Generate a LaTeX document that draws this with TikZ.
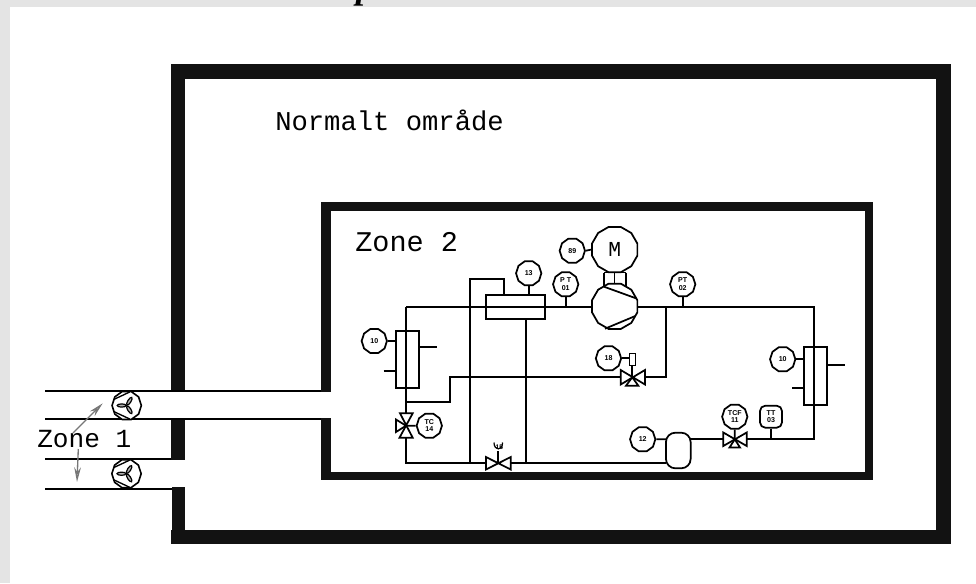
\documentclass[tikz,border=0pt]{standalone}
\usepackage{fontspec}
\setmainfont{Liberation Sans}
\newfontfamily\cadfont{Liberation Mono}
\newfontfamily\titlefont{Liberation Serif}
\usetikzlibrary{shapes.geometric,arrows.meta,calc}
\definecolor{wallc}{HTML}{121212}
\definecolor{pagec}{HTML}{E4E4E4}
\definecolor{arrowc}{HTML}{777777}
\tikzset{
  pipe/.style={line width=1.3pt,black},
  wall/.style={fill=wallc,draw=none},
  duct/.style={line width=1.4pt,black},
  equip/.style={draw=black,line width=1.3pt,fill=white},
  inst/.style={regular polygon,regular polygon sides=10,minimum size=19pt,inner sep=0pt,
    draw=black,line width=1.3pt,fill=white,align=center,font=\bfseries\fontsize{5.3}{5.6}\selectfont},
  instsq/.style={rectangle,rounded corners=4pt,minimum size=16.5pt,inner sep=0pt,
    draw=black,line width=1.3pt,fill=white,align=center,font=\bfseries\fontsize{5.3}{5.6}\selectfont},
  bigoct/.style={regular polygon,regular polygon sides=12,minimum size=35.2pt,inner sep=0pt,
    draw=black,line width=1.3pt,fill=white},
  fanoct/.style={regular polygon,regular polygon sides=10,minimum size=22pt,inner sep=0pt,
    draw=black,line width=1.2pt,fill=white},
  label/.style={anchor=base west,inner sep=0pt,text=black,font=\cadfont},
  flow/.style={draw=arrowc,line width=1pt,-{Stealth[open,length=11pt,width=5pt,fill=white]}},
  valve/.style={draw=black,line width=1.3pt,fill=white,line join=miter},
}
\newcommand{\lowtxt}[1]{\raisebox{-3.6pt}{#1}}
\newcommand{\fansym}[3]{%
  \node[fanoct] (#1) at (#2,#3) {};
  \begin{scope}[shift={(#2,#3)}]
    \draw[line width=1pt] (-13,-6) -- (3,-13.5) (-13,6) -- (3,13.5);
    \draw[line width=.9pt,fill=black!30,rotate=180] (5,0) ellipse (4.5 and 1.6);
    \draw[line width=.9pt,fill=black!30,rotate=-58] (5,0) ellipse (4.5 and 1.6);
    \draw[line width=.9pt,fill=black!30,rotate=58] (5,0) ellipse (4.5 and 1.6);
  \end{scope}}
\begin{document}
\begin{tikzpicture}[x=0.75pt,y=-0.75pt]
\useasboundingbox (0,0) rectangle (976,583);
% page
\fill[pagec] (0,0) rectangle (976,583);
\fill[white] (10,7) rectangle (976,583);
\begin{scope}
  \clip (0,0) rectangle (976,7);
  \node[anchor=base,inner sep=0pt,font=\titlefont\bfseries\itshape\fontsize{27}{27}\selectfont] (cutoff) at (365,-2) {p};
\end{scope}
% outer room
\fill[wall] (171,64) rectangle (951,78.5);
\fill[wall] (171,530) rectangle (951,544);
\fill[wall] (935.5,64) rectangle (951,544);
\fill[wall] (171,64) rectangle (185,392);
\fill[wall] (171,418) rectangle (185,460);
\fill[wall] (172,487) rectangle (185,544);
% inner room
\fill[wall] (321,202) rectangle (873,211);
\fill[wall] (321,472) rectangle (873,480);
\fill[wall] (865,202) rectangle (873,480);
\fill[wall] (321,202) rectangle (331,392);
\fill[wall] (321,418) rectangle (331,480);
% ducts
\coordinate (d1a) at (45,391.3); \coordinate (d1b) at (321,391.3);
\coordinate (d2a) at (45,419.3); \coordinate (d2b) at (321,419.3);
\coordinate (d3a) at (45,459.3); \coordinate (d3b) at (171,459.3);
\coordinate (d4a) at (45,489);   \coordinate (d4b) at (172,489);
\draw[duct] (d1a) -- (d1b);
\draw[duct] (d2a) -- (d2b);
\draw[duct] (d3a) -- (d3b);
\draw[duct] (d4a) -- (d4b);
\fansym{fanA}{126.7}{405.5}
\fansym{fanB}{126.5}{473.7}
% flow arrows
\coordinate (fa1) at (73,433); \coordinate (fa2) at (102.7,403.3);
\coordinate (fb1) at (78.3,449); \coordinate (fb2) at (77,482);
% texts
\node[label,font=\cadfont\fontsize{20.4}{21}\selectfont] (tn) at (275,130) {Normalt område};
\node[label,font=\cadfont\fontsize{21.4}{22}\selectfont] (tz2) at (355,251) {Zone 2};
\node[label,font=\cadfont\fontsize{19.6}{20}\selectfont] (tz1) at (37,447) {Zone 1};
\draw[flow] (fa1) -- (fa2);
\draw[flow] (fb1) -- (fb2);
% coordinates of the pipework
\coordinate (j1) at (406,307.3);
\coordinate (j2) at (406,401.7);
\coordinate (j3) at (450.3,401.7);
\coordinate (j4) at (450.3,377.3);
\coordinate (j5) at (406,463.3);
\coordinate (j6) at (470,279.3);
\coordinate (j7) at (470,463.3);
\coordinate (j8) at (504.3,279.3);
\coordinate (j9) at (504.3,295);
\coordinate (j10) at (526,463.3);
\coordinate (j11) at (526,319.3);
\coordinate (j12) at (666.3,307.3);
\coordinate (j13) at (666.3,377.3);
\coordinate (j14) at (814.3,307.3);
\coordinate (j15) at (814.3,439.3);
\coordinate (vaT) at (406,413.3);
\coordinate (vaB) at (406,437.7);
\coordinate (vaC) at (406,425.7);
\coordinate (vbL) at (486,463.3);
\coordinate (vbR) at (510.7,463.3);
\coordinate (vbC) at (498.3,463.3);
\coordinate (vcL) at (620.7,377.3);
\coordinate (vcR) at (645,377.3);
\coordinate (vcC) at (632.3,377.3);
\coordinate (vdL) at (723.3,439.3);
\coordinate (vdR) at (746.7,439.3);
\coordinate (vdC) at (734.8,439.3);
\coordinate (tankL) at (666,463.3);
\coordinate (tankLm) at (666,439.3);
\coordinate (tankR) at (690.7,439.3);
\coordinate (tiB) at (771,439.3);
\coordinate (pt1B) at (566.5,307.3);
\coordinate (pt2B) at (684,307.3);
\coordinate (c13B) at (530,295);
% pipes
\draw[pipe] (j1) -- (591.7,307.3);
\draw[pipe] (637,307.3) -- (j14) -- (j15) -- (vdR);
\draw[pipe] (j1) -- (vaT);
\draw[pipe] (vaB) -- (j5) -- (vbL);
\draw[pipe] (vbR) -- (tankL);
\draw[pipe] (j2) -- (j3) -- (j4) -- (vcL);
\draw[pipe] (j12) -- (j13) -- (vcR);
\draw[pipe] (j7) -- (j6) -- (j8) -- (j9);
\draw[pipe] (j10) -- (j11);
\draw[pipe] (vdL) -- (tankR);
% exchangers and receiver
\draw[equip,fill=none] (396,330.7) rectangle (418.7,387.7);
\draw[equip,fill=none] (804,347) rectangle (826.7,405.3);
\draw[equip,fill=none] (486,295) rectangle (544.7,319.3);
\coordinate (hxa1) at (418.7,347); \coordinate (hxa2) at (436.7,347);
\coordinate (hxa3) at (383.7,371); \coordinate (hxa4) at (396,371);
\coordinate (hxb1) at (826.7,365.3); \coordinate (hxb2) at (845,365.3);
\coordinate (hxb3) at (792.3,387.7); \coordinate (hxb4) at (804,387.7);
\draw[pipe] (hxa1) -- (hxa2);
\draw[pipe] (hxa3) -- (hxa4);
\draw[pipe] (hxb1) -- (hxb2);
\draw[pipe] (hxb3) -- (hxb4);
\node[equip,rectangle,rounded corners=7pt,minimum width=18.5pt,minimum height=26.7pt,inner sep=0pt,fill=none] (tank) at (678.3,450.5) {};
% motor and compressor
\node[bigoct] (motor) at (614.7,249.6) {\cadfont\fontsize{16}{16}\selectfont M};
\node[bigoct] (comp) at (614.7,306.3) {};
\coordinate (beltA) at (604,272.5); \coordinate (beltA2) at (604,287);
\coordinate (beltB) at (614.5,272.5); \coordinate (beltB2) at (614.5,284);
\coordinate (beltC) at (626,272.5); \coordinate (beltC2) at (626,287);
\draw[pipe] (beltA) -- (beltA2);
\draw[pipe] (beltB) -- (beltB2);
\draw[pipe] (beltC) -- (beltC2);
\draw[pipe] (beltA) -- (beltC);
\coordinate (cc1) at (604,286.7); \coordinate (cc2) at (636,298.3);
\coordinate (cc3) at (605,328.7); \coordinate (cc4) at (635.3,316);
\draw[pipe] (cc1) -- (cc2);
\draw[pipe] (cc3) -- (cc4);
% valves
\draw[valve] (400,413.3) -- (412.7,413.3) -- (399.5,437.7) -- (412.7,437.7) -- cycle;
\draw[valve] (vaC) -- (396,419.5) -- (396,432) -- cycle;
\draw[valve] (486,457) -- (510.7,469.5) -- (510.7,457) -- (486,469.5) -- cycle;
\draw[pipe] (vbC) -- (498.3,451);
\draw[pipe,line width=.9pt] (494,442.5) .. controls (494,451) and (502.6,451) .. (502.6,442.5);
\node[font=\bfseries\fontsize{5}{5}\selectfont,inner sep=0pt] (t15) at (499.3,447) {15};
\draw[valve] (620.7,370) -- (645,384.5) -- (645,370) -- (620.7,384.5) -- cycle;
\draw[valve] (vcC) -- (626,385.7) -- (638.3,385.7) -- cycle;
\draw[pipe] (vcC) -- (632.3,352.7);
\node[draw=black,line width=.8pt,minimum width=5pt,minimum height=9.5pt,inner sep=0pt,fill=white,font=\bfseries\fontsize{5}{5}\selectfont] (vcA) at (632.5,359.5) {};
\draw[valve] (723.3,432.5) -- (746.7,446) -- (746.7,432.5) -- (723.3,446) -- cycle;
\draw[valve] (vdC) -- (729.5,447.5) -- (740,447.5) -- cycle;
% instruments
\node[inst] (i89) at (572.3,250.7) {\lowtxt{89}};
\node[inst] (i13) at (528.7,273.3) {\lowtxt{13}};
\node[inst] (i10a) at (374.3,341) {\lowtxt{10}};
\node[inst] (i10b) at (782.7,359.3) {\lowtxt{10}};
\node[inst] (i18) at (608.5,358.3) {\lowtxt{18}};
\node[inst] (i12) at (642.7,439.3) {\lowtxt{12}};
\node[inst] (ipt1) at (565.7,284.3) {P T\\01};
\node[inst] (ipt2) at (682.7,284.3) {PT\\02};
\node[inst] (itc) at (429.3,425.7) {TC\\14};
\node[inst] (itcf) at (734.8,416.7) {TCF\\11};
\node[instsq] (itt) at (771,416.7) {TT\\03};
\draw[pipe] (i89.east) -- (motor.west);
\draw[pipe] (i13.south) -- (i13.south |- c13B);
\draw[pipe] (ipt1.south) -- (ipt1.south |- pt1B);
\draw[pipe] (ipt2.south) -- (ipt2.south |- pt2B);
\draw[pipe] (i10a.east) -- (i10a.east -| hxa4);
\draw[pipe] (i10b.east) -- (i10b.east -| hxb4);
\draw[pipe] (i18.east) -- (vcA.west |- i18.east);
\draw[pipe] (i12.east) -- (tankLm);
\draw[pipe] (itc.west) -- (vaC);
\draw[pipe] (itcf.south) -- (vdC);
\draw[pipe] (itt.south) -- (tiB);
\end{tikzpicture}
\end{document}
